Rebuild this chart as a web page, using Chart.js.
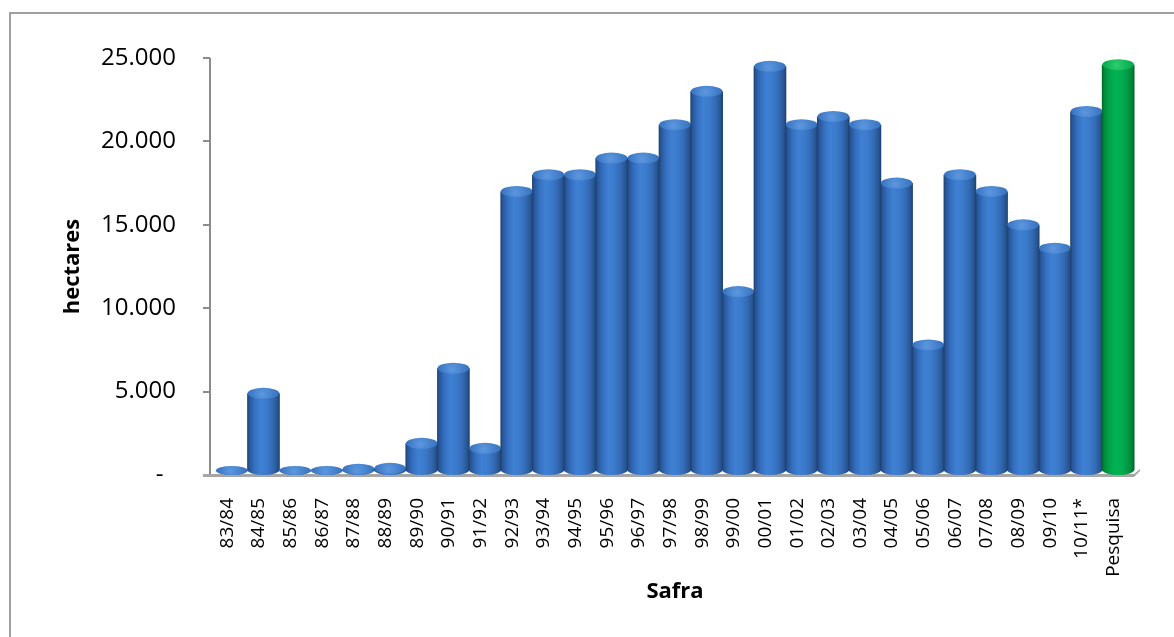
<!DOCTYPE html>
<html>
<head>
<meta charset="utf-8">
<title>Área por safra</title>
<script src="https://cdn.jsdelivr.net/npm/chart.js@4.4.1/dist/chart.umd.min.js"></script>
<style>
  html, body { margin: 0; padding: 0; background: #ffffff; }
  #wrap { width: 1174px; height: 637px; }
</style>
</head>
<body>
<div id="wrap"><canvas id="grafico" width="1174" height="637"></canvas></div>
<script>
// Safras (categorias do eixo X)
const safras = ['83/84','84/85','85/86','86/87','87/88','88/89','89/90','90/91','91/92','92/93',
                '93/94','94/95','95/96','96/97','97/98','98/99','99/00','00/01','01/02','02/03',
                '03/04','04/05','05/06','06/07','07/08','08/09','09/10','10/11*','Pesquisa'];

// Área em hectares por safra
const hectares = [150, 4900, 200, 50, 350, 400, 1900, 6400, 1600, 17000,
                  18000, 18000, 19000, 19000, 21000, 23000, 11000, 24500, 21000, 21500,
                  21000, 17500, 7800, 18000, 17000, 15000, 13600, 21800, 24600];

// Valores marcados no eixo Y
const marcasY = [0, 5000, 10000, 15000, 20000, 25000];

// Categoria destacada em verde
const destaque = 'Pesquisa';

const FONTE = "'Open Sans', 'DejaVu Sans', sans-serif";

const formatoMilhar = v => v === 0 ? '-  ' : String(v).replace(/\B(?=(\d{3})+(?!\d))/g, '.');

const PALETA = {
  azul: {
    corpo: [[0, '#1c416f'], [0.07, '#28569a'], [0.22, '#356fbf'], [0.4, '#3e80d3'],
            [0.58, '#3c7bcc'], [0.78, '#336ab4'], [0.93, '#27548f'], [1, '#1c3f6c']],
    tampaClara: '#5a95dd', tampaEscura: '#3570bf'
  },
  verde: {
    corpo: [[0, '#006228'], [0.07, '#008a3a'], [0.22, '#00a248'], [0.4, '#00b253'],
            [0.58, '#00af51'], [0.78, '#009b45'], [0.93, '#008236'], [1, '#005f27']],
    tampaClara: '#2ccb6c', tampaEscura: '#00a54b'
  }
};

// Moldura, eixo Y com marcas e piso sob as barras
const molduraEixos = {
  id: 'molduraEixos',
  beforeDraw(chart) {
    const ctx = chart.ctx;
    ctx.save();
    ctx.fillStyle = '#ffffff';
    ctx.fillRect(0, 0, chart.width, chart.height);
    ctx.strokeStyle = '#a0a0a0';
    ctx.lineWidth = 2;
    ctx.beginPath();
    ctx.moveTo(10, chart.height + 2);
    ctx.lineTo(10, 13);
    ctx.lineTo(chart.width + 2, 13);
    ctx.stroke();
    ctx.restore();
  },
  beforeDatasetsDraw(chart) {
    const ctx = chart.ctx;
    const area = chart.chartArea;
    const y = chart.scales.y;
    const eixoX = area.left - 6;
    ctx.save();
    ctx.strokeStyle = '#8c8c8c';
    ctx.lineWidth = 2;
    ctx.beginPath();
    ctx.moveTo(eixoX, y.getPixelForValue(25000));
    ctx.lineTo(eixoX, area.bottom + 1);
    marcasY.forEach(v => {
      const py = Math.round(y.getPixelForValue(v));
      ctx.moveTo(eixoX - 7, py);
      ctx.lineTo(eixoX, py);
    });
    ctx.stroke();
    // piso
    ctx.fillStyle = '#a6a6a6';
    ctx.beginPath();
    ctx.moveTo(eixoX - 7, area.bottom - 1);
    ctx.lineTo(area.right, area.bottom - 1);
    ctx.lineTo(area.right + 6, area.bottom - 6);
    ctx.lineTo(area.right + 6, area.bottom - 4);
    ctx.lineTo(area.right, area.bottom + 2);
    ctx.lineTo(eixoX - 7, area.bottom + 2);
    ctx.closePath();
    ctx.fill();
    ctx.restore();
  }
};

// Barras desenhadas como cilindros sobre as posições calculadas pelas escalas
const cilindros = {
  id: 'cilindros',
  afterDatasetsDraw(chart) {
    const ctx = chart.ctx;
    const meta = chart.getDatasetMeta(0);
    meta.data.forEach((barra, i) => {
      const {x, y, base, width} = barra.getProps(['x', 'y', 'base', 'width'], true);
      const pal = safras[i] === destaque ? PALETA.verde : PALETA.azul;
      const rx = width / 2 + 0.5;
      const ry = 5.5;
      const centroBase = base - ry;
      const centroTopo = Math.min(y, centroBase + 1);
      const ryTopo = Math.min(ry, Math.max(3.5, base - centroTopo));

      ctx.save();
      const g = ctx.createLinearGradient(x - rx, 0, x + rx, 0);
      pal.corpo.forEach(([p, c]) => g.addColorStop(p, c));
      ctx.fillStyle = g;
      ctx.beginPath();
      ctx.moveTo(x - rx, centroTopo);
      ctx.lineTo(x - rx, centroBase);
      ctx.ellipse(x, centroBase, rx, ry, 0, Math.PI, 0, true);
      ctx.lineTo(x + rx, centroTopo);
      ctx.closePath();
      ctx.fill();

      const r = ctx.createRadialGradient(x - rx * 0.1, centroTopo + ryTopo * 0.2, 1, x, centroTopo, rx);
      r.addColorStop(0, pal.tampaClara);
      r.addColorStop(1, pal.tampaEscura);
      ctx.fillStyle = r;
      ctx.beginPath();
      ctx.ellipse(x, centroTopo, rx - 0.5, ryTopo, 0, 0, Math.PI * 2);
      ctx.fill();
      ctx.restore();
    });
  }
};

new Chart(document.getElementById('grafico'), {
  type: 'bar',
  data: {
    labels: safras,
    datasets: [{
      label: 'hectares',
      data: hectares,
      backgroundColor: 'rgba(0,0,0,0)',
      borderWidth: 0,
      barPercentage: 1,
      categoryPercentage: 1
    }]
  },
  options: {
    responsive: false,
    animation: false,
    events: [],
    layout: { padding: { top: 58, right: 40, bottom: 0, left: 0 } },
    plugins: {
      legend: { display: false },
      tooltip: { enabled: false },
      title: { display: false }
    },
    scales: {
      x: {
        grid: { display: false },
        border: { display: false },
        afterFit: s => { s.height = 637 - 475; },
        ticks: {
          autoSkip: false,
          minRotation: 90,
          maxRotation: 90,
          padding: 15,
          labelOffset: -4.5,
          color: '#000000',
          font: { family: FONTE, size: 19 }
        },
        title: {
          display: true,
          text: 'Safra',
          color: '#000000',
          font: { family: FONTE, size: 22, weight: 'bold' },
          padding: { top: 0, bottom: 32 }
        }
      },
      y: {
        min: 0,
        max: 25000,
        grid: { display: false },
        border: { display: false },
        afterFit: s => { s.width = 216; },
        afterBuildTicks: s => { s.ticks = marcasY.map(v => ({ value: v })); },
        ticks: {
          padding: 32,
          color: '#000000',
          font: { family: FONTE, size: 24 },
          callback: v => formatoMilhar(v)
        },
        title: {
          display: true,
          text: 'hectares',
          color: '#000000',
          font: { family: FONTE, size: 22, weight: 'bold' },
          padding: { top: 60, bottom: 0 }
        }
      }
    }
  },
  plugins: [molduraEixos, cilindros]
});
</script>
</body>
</html>
